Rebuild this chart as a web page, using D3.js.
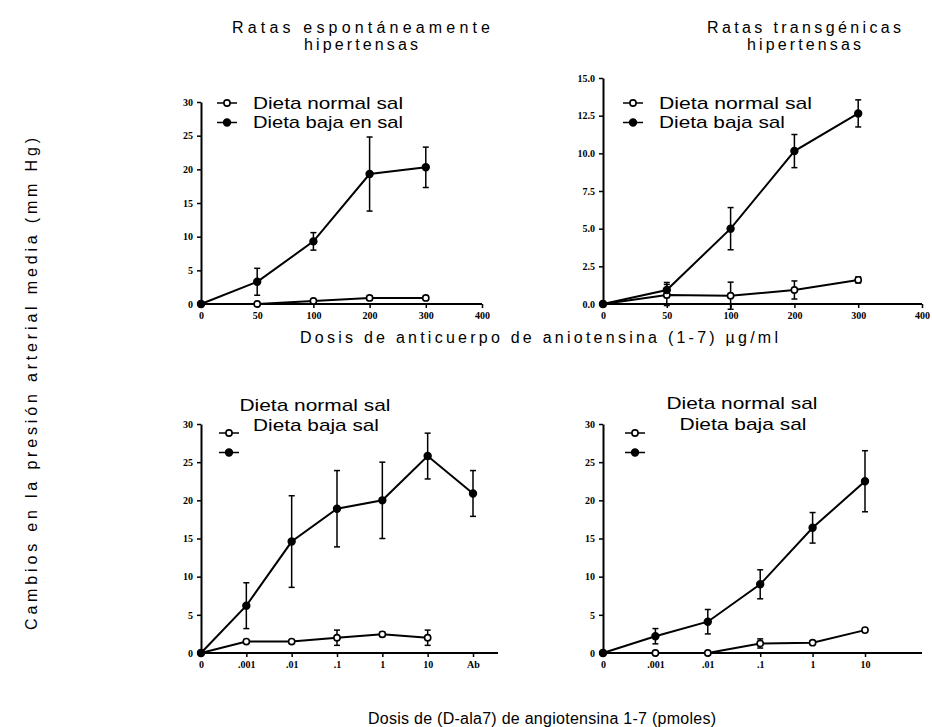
<!DOCTYPE html>
<html>
<head>
<meta charset="utf-8">
<script src="https://cdn.jsdelivr.net/npm/d3@7"></script>
<style>
  body { margin: 0; background: #fff; }
  svg { font-family: "Liberation Sans", Arial, sans-serif; }
  .tick text { font-family: "Liberation Serif", serif; font-weight: bold; font-size: 10px; }
</style>
</head>
<body>
<div id="chart"></div>
<script>
// datos
const topCats = ["0", "50", "100", "200", "300", "400"];
const botCatsA = ["0", ".001", ".01", ".1", "1", "10", "Ab"];
const botCatsB = ["0", ".001", ".01", ".1", "1", "10"];

const shrNormal = [0, 0, 0.45, 0.9, 0.9];
const shrNormalErr = [0, 0, 0.2, 0.3, 0.3];
const shrLow = [0, 3.3, 9.3, 19.3, 20.3];
const shrLowErr = [0, 2, 1.3, 5.5, 3];

const tgrNormal = [0, 0.6, 0.55, 0.93, 1.6];
const tgrNormalErr = [0, 0.7, 0.9, 0.6, 0.2];
const tgrLow = [0, 0.93, 5.0, 10.15, 12.65];
const tgrLowErr = [0, 0.5, 1.4, 1.1, 0.9];

const alaNormalA = [0, 1.5, 1.5, 2.0, 2.45, 2.0];
const alaNormalAErr = [0, 0.2, 0.2, 1, 0.3, 1];
const alaLowA = [0, 6.2, 14.6, 18.9, 20, 25.8, 20.9];
const alaLowAErr = [0, 3, 6, 5, 5, 3, 3];

const alaNormalB = [0, 0, 0, 1.25, 1.35, 3.0];
const alaNormalBErr = [0, 0, 0, 0.6, 0.2, 0.2];
const alaLowB = [0, 2.2, 4.1, 9.0, 16.4, 22.5];
const alaLowBErr = [0, 1, 1.6, 1.9, 2, 4];

const ticks30 = [0, 5, 10, 15, 20, 25, 30];
const ticks15 = [0, 2.5, 5, 7.5, 10, 12.5, 15];

const W = 932, H = 727;
const svg = d3.select("#chart").append("svg")
  .attr("width", W).attr("height", H);

const panels = [
  { cats: topCats, normal: shrNormal, nErr: shrNormalErr, low: shrLow, lErr: shrLowErr,
    yMax: 30, yTicks: ticks30, fmt: d3.format("d"),
    xr: [201, 482], xEnd: 482, yr: [304, 102], legend: "inline",
    labels: ["Dieta normal sal", "Dieta baja en sal"], lw: [150, 150], lx: 227, ly: 103 },
  { cats: topCats, normal: tgrNormal, nErr: tgrNormalErr, low: tgrLow, lErr: tgrLowErr,
    yMax: 15, yTicks: ticks15, fmt: d3.format(".1f"),
    xr: [603, 922], xEnd: 922, yr: [304, 78], legend: "inline",
    labels: ["Dieta normal sal", "Dieta baja sal"], lw: [153, 126], lx: 633, ly: 103 },
  { cats: botCatsA, normal: alaNormalA, nErr: alaNormalAErr, low: alaLowA, lErr: alaLowAErr,
    yMax: 30, yTicks: ticks30, fmt: d3.format("d"),
    xr: [201, 473], xEnd: 498, yr: [653, 424], legend: "above",
    labels: ["Dieta normal sal", "Dieta baja sal"], lw: [151, 126],
    lx: 229, ly: 433, tx: [315, 316], ty: [405, 425] },
  { cats: botCatsB, normal: alaNormalB, nErr: alaNormalBErr, low: alaLowB, lErr: alaLowBErr,
    yMax: 30, yTicks: ticks30, fmt: d3.format("d"),
    xr: [603, 865], xEnd: 922, yr: [653, 424], legend: "above",
    labels: ["Dieta normal sal", "Dieta baja sal"], lw: [151, 127],
    lx: 635, ly: 433, tx: [742, 743], ty: [403, 424] }
];

function drawMarker(g, cx, cy, filled) {
  g.append("circle")
    .attr("cx", cx).attr("cy", cy).attr("r", filled ? 3.4 : 3.1)
    .attr("fill", filled ? "#000" : "#fff")
    .attr("stroke", "#000").attr("stroke-width", 1.6);
}

panels.forEach(p => {
  const g = svg.append("g");
  const x = d3.scalePoint().domain(p.cats).range(p.xr);
  const y = d3.scaleLinear().domain([0, p.yMax]).range(p.yr);

  // ejes
  const xa = g.append("g")
    .attr("transform", `translate(0,${p.yr[0]})`)
    .call(d3.axisBottom(x).tickSize(4).tickSizeOuter(0).tickPadding(4));
  xa.select(".domain").remove();
  xa.selectAll(".tick line").attr("stroke-width", 1.5);
  g.append("line")
    .attr("x1", p.xr[0]).attr("x2", p.xEnd)
    .attr("y1", p.yr[0]).attr("y2", p.yr[0])
    .attr("stroke", "#000").attr("stroke-width", 2);

  const ya = g.append("g")
    .attr("transform", `translate(${p.xr[0]},0)`)
    .call(d3.axisLeft(y).tickValues(p.yTicks).tickFormat(p.fmt).tickSize(4).tickSizeOuter(0).tickPadding(4));
  ya.select(".domain").attr("stroke-width", 2);
  ya.selectAll(".tick line").attr("stroke-width", 1.5);

  const line = d3.line().x((d, i) => x(p.cats[i])).y(d => y(d));

  [[p.normal, p.nErr], [p.low, p.lErr]].forEach(([vals, errs]) => {
    // barras de error
    vals.forEach((v, i) => {
      if (!errs[i]) return;
      const cx = x(p.cats[i]);
      g.append("line")
        .attr("x1", cx).attr("x2", cx)
        .attr("y1", y(v + errs[i])).attr("y2", y(v - errs[i]))
        .attr("stroke", "#000").attr("stroke-width", 1.5);
      [v + errs[i], v - errs[i]].forEach(e => {
        g.append("line")
          .attr("x1", cx - 3).attr("x2", cx + 3)
          .attr("y1", y(e)).attr("y2", y(e))
          .attr("stroke", "#000").attr("stroke-width", 1.5);
      });
    });
    g.append("path")
      .datum(vals)
      .attr("d", line)
      .attr("fill", "none")
      .attr("stroke", "#000")
      .attr("stroke-width", 2);
  });
  [[p.normal, false], [p.low, true]].forEach(([vals, filled]) => {
    vals.forEach((v, i) => drawMarker(g, x(p.cats[i]), y(v), filled));
  });

  // leyenda
  [false, true].forEach((filled, k) => {
    const ly = p.ly + k * 19.5;
    g.append("line")
      .attr("x1", p.lx - 10).attr("x2", p.lx + 10)
      .attr("y1", ly).attr("y2", ly)
      .attr("stroke", "#000").attr("stroke-width", 1.5);
    drawMarker(g, p.lx, ly, filled);
    const t = g.append("text")
      .attr("dy", "0.35em")
      .attr("textLength", p.lw[k])
      .attr("lengthAdjust", "spacingAndGlyphs")
      .style("font-size", "17px")
      .text(p.labels[k]);
    if (p.legend === "inline") {
      t.attr("x", p.lx + 26).attr("y", ly);
    } else {
      t.attr("x", p.tx[k]).attr("y", p.ty[k]).attr("text-anchor", "middle");
    }
  });
});

// titulos
const titles = [
  { x: 361, lines: ["Ratas espontáneamente", "hipertensas"], w: [258, 114] },
  { x: 804, lines: ["Ratas transgénicas", "hipertensas"], w: [194, 114] }
];
titles.forEach(t => {
  t.lines.forEach((s, i) => {
    svg.append("text")
      .attr("x", t.x).attr("y", 27 + i * 17)
      .attr("dy", "0.35em")
      .attr("text-anchor", "middle")
      .attr("textLength", t.w[i])
      .attr("lengthAdjust", "spacing")
      .style("font-size", "16px")
      .text(s);
  });
});

svg.append("text")
  .attr("x", 539).attr("y", 337)
  .attr("dy", "0.35em")
  .attr("text-anchor", "middle")
  .attr("textLength", 478)
  .attr("lengthAdjust", "spacing")
  .style("font-size", "16px")
  .text("Dosis de anticuerpo de aniotensina (1-7) µg/ml");

svg.append("text")
  .attr("x", 542).attr("y", 718)
  .attr("dy", "0.35em")
  .attr("text-anchor", "middle")
  .attr("textLength", 348)
  .attr("lengthAdjust", "spacing")
  .style("font-size", "16px")
  .text("Dosis de (D-ala7) de angiotensina 1-7 (pmoles)");

svg.append("text")
  .attr("transform", "translate(31,384) rotate(-90)")
  .attr("dy", "0.35em")
  .attr("text-anchor", "middle")
  .attr("textLength", 492)
  .attr("lengthAdjust", "spacing")
  .style("font-size", "16px")
  .text("Cambios en la presión arterial media (mm Hg)");
</script>
</body>
</html>
